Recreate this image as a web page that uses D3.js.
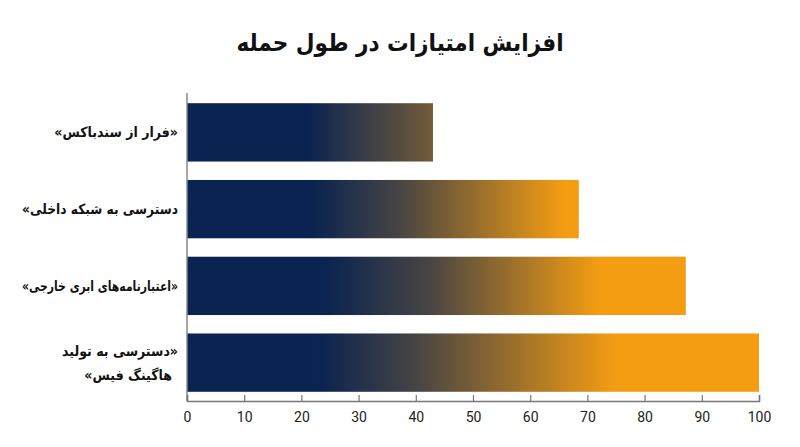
<!DOCTYPE html>
<html>
<head>
<meta charset="utf-8">
<script src="https://cdn.jsdelivr.net/npm/d3@7"></script>
<style>
  body { margin: 0; background: #fff; }
  svg { display: block; }
</style>
</head>
<body>
<div id="container"></div>
<script>
// data
const categories = [
    ['«فرار از سندباکس»'],
    ['دسترسی به شبکه داخلی»'],
    ['«اعتبارنامه‌های ابری خارجی»'],
    ['«دسترسی به تولید', 'هاگینگ فیس»']
];
const values = [43, 68.5, 87.2, 100];
const xTicks = [0, 10, 20, 30, 40, 50, 60, 70, 80, 90, 100];
const title = 'افزایش امتیازات در طول حمله';

// gradient stops per bar, in axis units (navy end, grey middle, orange start)
const gradNavy = [21, 22, 24, 23];
const gradMid = [34, 37, 42, 40];
const gradOrange = [68, 66, 72, 75];

const width = 800;
const height = 447;
const margin = { top: 94, right: 41, bottom: 46, left: 187 };
const maxLabelWidth = 156;

const navy = '#0a2350';
const grey = '#464444';
const orange = '#f49d12';
const faFont = '"DejaVu Sans Condensed", "DejaVu Sans", sans-serif';

const svg = d3.select('#container').append('svg')
    .attr('width', width)
    .attr('height', height)
    .attr('viewBox', [0, 0, width, height]);

const x = d3.scaleLinear()
    .domain([0, 100])
    .range([margin.left, width - margin.right]);

const y = d3.scaleBand()
    .domain(d3.range(categories.length))
    .range([margin.top, height - margin.bottom])
    .paddingInner(0.24)
    .paddingOuter(0.12);

// gradients
const defs = svg.append('defs');
values.forEach((v, i) => {
    const g = defs.append('linearGradient')
        .attr('id', `grad-${i}`)
        .attr('gradientUnits', 'userSpaceOnUse')
        .attr('x1', x(gradNavy[i]))
        .attr('x2', x(gradOrange[i]))
        .attr('y1', 0)
        .attr('y2', 0);
    const midOff = (gradMid[i] - gradNavy[i]) / (gradOrange[i] - gradNavy[i]);
    g.append('stop').attr('offset', 0).attr('stop-color', navy);
    g.append('stop').attr('offset', midOff).attr('stop-color', grey);
    g.append('stop').attr('offset', 1).attr('stop-color', orange);
});

// title
svg.append('text')
    .attr('x', width / 2)
    .attr('y', 51)
    .attr('text-anchor', 'middle')
    .attr('direction', 'rtl')
    .style('font-family', faFont)
    .style('font-weight', 'bold')
    .style('font-size', '24px')
    .attr('fill', '#111')
    .text(title);

// bars
svg.append('g')
    .selectAll('rect')
    .data(values)
    .enter().append('rect')
    .attr('x', x(0))
    .attr('y', (d, i) => y(i))
    .attr('width', d => x(d) - x(0))
    .attr('height', y.bandwidth())
    .attr('fill', (d, i) => `url(#grad-${i})`);

// y axis line
svg.append('line')
    .attr('x1', x(0))
    .attr('x2', x(0))
    .attr('y1', margin.top - 1)
    .attr('y2', height - margin.bottom)
    .attr('stroke', '#888')
    .attr('stroke-width', 1.5);

// category labels
svg.append('g')
    .selectAll('g')
    .data(categories)
    .enter().append('g')
    .each(function (lines, i) {
        const cy = y(i) + y.bandwidth() / 2;
        const lh = 24;
        const y0 = cy - (lines.length - 1) * lh / 2;
        d3.select(this).selectAll('text')
            .data(lines)
            .enter().append('text')
            .attr('x', (d, j) => j === 0 ? 178 : 172)
            .attr('y', (d, j) => y0 + j * lh)
            .attr('dy', '0.35em')
            .attr('text-anchor', 'start')
            .attr('direction', 'rtl')
            .style('font-family', faFont)
            .style('font-weight', 'bold')
            .style('font-size', '14px')
            .attr('fill', '#111')
            .text(d => d)
            .each(function () {
                // squeeze lines that are wider than the label column
                if (this.getComputedTextLength() > maxLabelWidth) {
                    d3.select(this)
                        .attr('textLength', maxLabelWidth)
                        .attr('lengthAdjust', 'spacingAndGlyphs');
                }
            });
    });

// x axis
const xAxis = svg.append('g')
    .attr('transform', `translate(0,${height - margin.bottom})`)
    .call(d3.axisBottom(x).tickValues(xTicks).tickSizeInner(-6).tickSizeOuter(-6).tickPadding(11));

xAxis.select('.domain').attr('stroke', '#777').attr('stroke-width', 1.5);
xAxis.selectAll('.tick line').attr('stroke', '#777').attr('stroke-width', 1.2);
xAxis.selectAll('.tick text')
    .style('font-family', 'Roboto, sans-serif')
    .style('font-size', '14px')
    .attr('fill', '#222');
</script>
</body>
</html>
